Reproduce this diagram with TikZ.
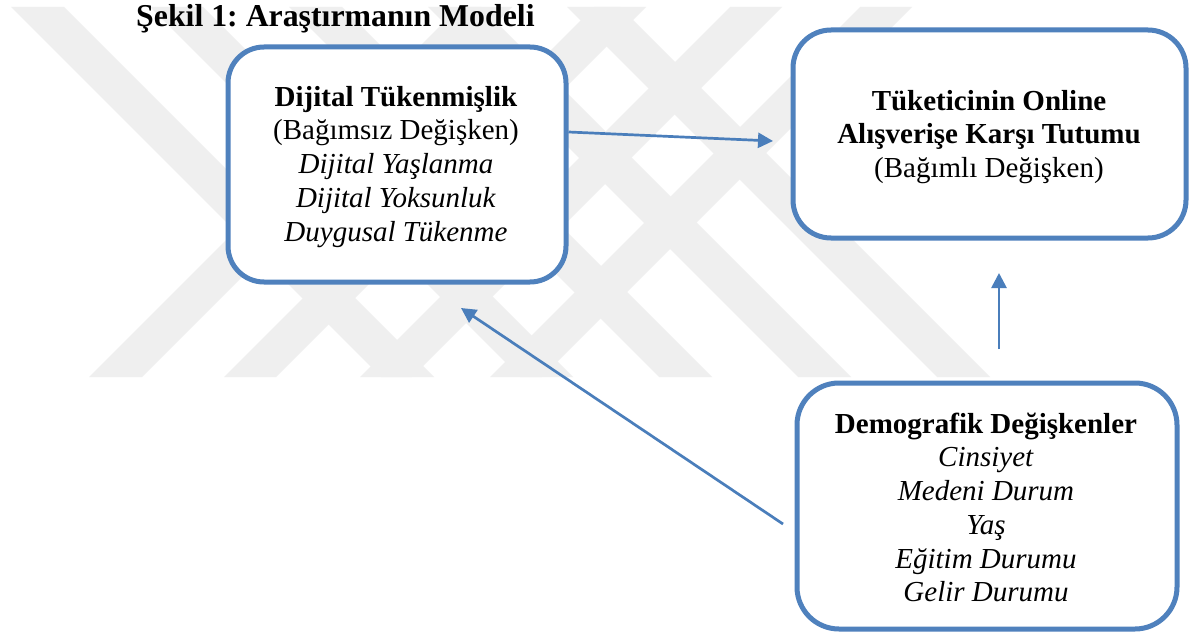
\documentclass[tikz,border=0pt]{standalone}
\usepackage{fontspec}
\setmainfont{Liberation Serif}
\usetikzlibrary{arrows.meta}
\frenchspacing
\definecolor{boxblue}{HTML}{4F81BD}
\definecolor{arrblue}{HTML}{4A7EBB}
\definecolor{wm}{HTML}{EFEFEF}
\tikzset{
  mybox/.style={draw=boxblue, line width=5pt, fill=white, inner sep=0pt, rounded corners=#1},
  bodytxt/.style={font=\fontsize{29}{33.75}\selectfont, align=center, inner sep=0pt, anchor=north},
  arr/.style={draw=arrblue, line width=2.7pt, -{Triangle[length=15pt,width=15pt]}},
}
\begin{document}
\begin{tikzpicture}[x=1pt,y=-1pt]
\useasboundingbox (0,0) rectangle (1202,634);
\fill[white] (0,0) rectangle (1202,634);
% watermark lattice
\foreach \a/\b in {466/519, 601/653, 737/789, 867/919}
  \fill[wm] (\a-7,7) -- (\b-7,7) -- (\b-377,377) -- (\a-377,377) -- cycle;
\foreach \a/\b in {4/57, 143/196, 282/335, 421/474, 560/613}
  \fill[wm] (\a+7,7) -- (\b+7,7) -- (\b+377,377) -- (\a+377,377) -- cycle;
% title
\node[anchor=base west, inner sep=0pt, font=\fontsize{31.8}{36}\selectfont\bfseries] (title) at (136,27) {Şekil 1: Araştırmanın Modeli};
% boxes
\node[mybox=36pt, minimum width=338pt, minimum height=235pt] (b1) at (397,164.5) {};
\node[mybox=38pt, minimum width=393pt, minimum height=208pt] (b2) at (989.5,134) {};
\node[mybox=42pt, minimum width=380pt, minimum height=246pt] (b3) at (987,506) {};
% texts
\node[bodytxt] (t1) at (396,82.4) {\strut\textbf{Dijital Tükenmişlik}\\\strut(Bağımsız Değişken)\\\strut\textit{Dijital Yaşlanma}\\\strut\textit{Dijital Yoksunluk}\\\strut\textit{Duygusal Tükenme}};
\node[bodytxt] (t2) at (989,86.4) {\strut\textbf{Tüketicinin Online}\\\strut\textbf{Alışverişe Karşı Tutumu}\\\strut(Bağımlı Değişken)};
\node[bodytxt] (t3) at (986,409.4) {\strut\textbf{Demografik Değişkenler}\\\strut\textit{Cinsiyet}\\\strut\textit{Medeni Durum}\\\strut\textit{Yaş}\\\strut\textit{Eğitim Durumu}\\\strut\textit{Gelir Durumu}};
% arrows
\draw[arr] ([yshift=32.5pt]b1.east) -- ([xshift=-17.5pt,yshift=-7pt]b2.west);
\draw[arr] ([xshift=12pt,yshift=31.5pt]b3.north) -- ([xshift=9.5pt,yshift=-32.5pt]b2.south);
\draw[arr] ([xshift=-11.5pt,yshift=-18pt]b3.west) -- ([xshift=64pt,yshift=-23.5pt]b1.south);
\end{tikzpicture}
\end{document}
